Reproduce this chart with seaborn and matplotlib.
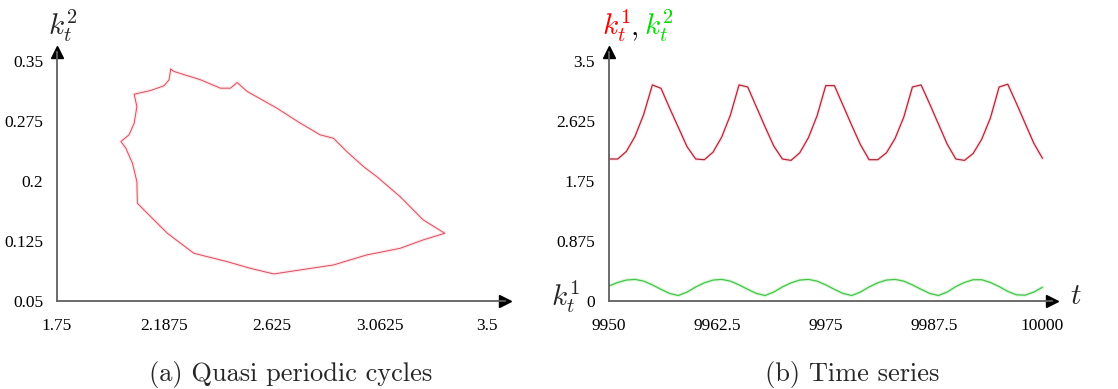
import numpy as np
import pandas as pd
import matplotlib
matplotlib.use("Agg")
import matplotlib.pyplot as plt
import seaborn as sns

# (a) quasi periodic cycle, k1 against k2 (going round once)
cycle_k1 = [2.2125, 2.226, 2.334, 2.415, 2.456, 2.483, 2.524, 2.645, 2.740, 2.821, 2.875,
            2.929, 2.997, 3.051, 3.146, 3.240, 3.328, 3.240, 3.146, 3.010, 2.875, 2.740,
            2.632, 2.537, 2.442, 2.307, 2.199, 2.131, 2.077, 2.075, 2.057, 2.030, 2.010,
            2.043, 2.064, 2.075, 2.064, 2.131, 2.185, 2.206, 2.2125]
cycle_k2 = [0.3396, 0.3367, 0.3263, 0.3158, 0.3158, 0.3229, 0.3117, 0.2908, 0.2721, 0.2575, 0.2533,
            0.2367, 0.2179, 0.2054, 0.1804, 0.1513, 0.1346, 0.1263, 0.1158, 0.1075, 0.0950, 0.0888,
            0.0838, 0.0908, 0.0992, 0.1096, 0.1346, 0.1554, 0.1721, 0.1992, 0.2221, 0.2408, 0.2492,
            0.2575, 0.2721, 0.2929, 0.3083, 0.3129, 0.3188, 0.3263, 0.3396]

# (b) time series, one value per period from t=9950 to t=10000
t_first, t_last = 9950, 10000
k1_series = [2.07, 2.07, 2.18, 2.40, 2.72, 3.15, 3.10, 2.81, 2.53, 2.25,
             2.07, 2.06, 2.17, 2.39, 2.71, 3.15, 3.12, 2.83, 2.54, 2.26,
             2.07, 2.05, 2.16, 2.38, 2.70, 3.14, 3.14, 2.85, 2.56, 2.28,
             2.06, 2.06, 2.16, 2.37, 2.68, 3.12, 3.15, 2.87, 2.58, 2.29,
             2.07, 2.05, 2.15, 2.36, 2.67, 3.12, 3.16, 2.88, 2.59, 2.30,
             2.08]
k2_series = [0.22, 0.27, 0.305, 0.315, 0.29, 0.235, 0.17, 0.11, 0.08, 0.13,
             0.205, 0.265, 0.305, 0.315, 0.29, 0.235, 0.17, 0.11, 0.08, 0.13,
             0.205, 0.265, 0.305, 0.315, 0.29, 0.235, 0.17, 0.11, 0.08, 0.13,
             0.205, 0.265, 0.305, 0.315, 0.29, 0.235, 0.17, 0.11, 0.08, 0.13,
             0.21, 0.27, 0.31, 0.31, 0.27, 0.21, 0.14, 0.09, 0.085, 0.13,
             0.20]

x_ticks_a = [1.75, 2.1875, 2.625, 3.0625, 3.5]
y_ticks_a = [0.05, 0.125, 0.2, 0.275, 0.35]
x_ticks_b = [9950, 9962.5, 9975, 9987.5, 10000]
y_ticks_b = [0, 0.875, 1.75, 2.625, 3.5]

sns.set_style("white")
plt.rcParams["font.family"] = ["Liberation Serif", "DejaVu Serif"]
plt.rcParams["mathtext.fontset"] = "cm"

W, H = 1118, 389
fig = plt.figure(figsize=(W / 100, H / 100), dpi=100)

def px(x, y):
    return x / W, 1 - y / H

ax_a = fig.add_axes([57 / W, 1 - 301 / H, 448 / W, 249 / H])
ax_b = fig.add_axes([609 / W, 1 - 301 / H, 443 / W, 249 / H])

axis_grey = "#606060"

def style_axes(ax, xt, yt, xlim, ylim):
    ax.set_xlim(*xlim)
    ax.set_ylim(*ylim)
    ax.set_xticks(xt)
    ax.set_yticks(yt)
    ax.set_xticklabels([f"{v:g}" for v in xt])
    ax.set_yticklabels([f"{v:g}" for v in yt])
    for side in ["top", "right"]:
        ax.spines[side].set_visible(False)
    for side in ["left", "bottom"]:
        ax.spines[side].set_color(axis_grey)
        ax.spines[side].set_linewidth(1.3)
    ax.tick_params(axis="both", direction="out", length=7, width=1.1,
                   color=axis_grey, labelsize=12.5, labelcolor="black")
    ax.tick_params(axis="x", pad=5)
    ax.tick_params(axis="y", pad=3)
    ax.set_xlabel("")
    ax.set_ylabel("")
    # arrow heads at the end of both axes
    ax.plot(1, 0, ">", color="black", ms=8, transform=ax.transAxes, clip_on=False)
    ax.plot(0, 1, "^", color="black", ms=8, transform=ax.transAxes, clip_on=False)

# (a) phase portrait
cyc = pd.DataFrame({"k1": cycle_k1, "k2": cycle_k2})
sns.lineplot(data=cyc, x="k1", y="k2", sort=False, estimator=None, ax=ax_a,
             color="#ffb0b8", lw=2.5, alpha=0.3)
sns.lineplot(data=cyc, x="k1", y="k2", sort=False, estimator=None, ax=ax_a,
             color="#cc1830", lw=0.7, alpha=0.75)
style_axes(ax_a, x_ticks_a, y_ticks_a, (1.75, 3.573), (0.05, 0.361))

# (b) time series
ts = pd.DataFrame({"t": np.arange(t_first, t_last + 1), "k1": k1_series, "k2": k2_series})
sns.lineplot(data=ts, x="t", y="k1", ax=ax_b, color="#ffc0c8", lw=2.6, alpha=0.4)
sns.lineplot(data=ts, x="t", y="k1", ax=ax_b, color="#b02838", lw=0.9)
sns.lineplot(data=ts, x="t", y="k2", ax=ax_b, color="#c0f0c0", lw=2.6, alpha=0.5)
sns.lineplot(data=ts, x="t", y="k2", ax=ax_b, color="#44c448", lw=0.9)
style_axes(ax_b, x_ticks_b, y_ticks_b, (9950, 10001.1), (0, 3.63))

# axis labels drawn like the original (at the arrow tips)
lab = dict(fontsize=21, va="center")
fig.text(*px(63, 26), r"$k_t^2$", ha="center", **lab)
fig.text(*px(566, 297), r"$k_t^1$", ha="center", **lab)
fig.text(*px(602, 26), r"$k_t^1$", ha="left", color="#ff0000", **lab)
fig.text(*px(630, 30), r"$,$", ha="left", color="black", **lab)
fig.text(*px(644, 26), r"$k_t^2$", ha="left", color="#00dd00", **lab)
fig.text(*px(1076, 297), r"$t$", ha="center", **lab)

# sub captions
cap = dict(fontsize=19, family="cmr10", ha="center", va="center")
fig.text(*px(291, 375), "(a) Quasi periodic cycles", **cap)
fig.text(*px(852, 375), "(b) Time series", **cap)

fig.savefig("out.png", dpi=100)
